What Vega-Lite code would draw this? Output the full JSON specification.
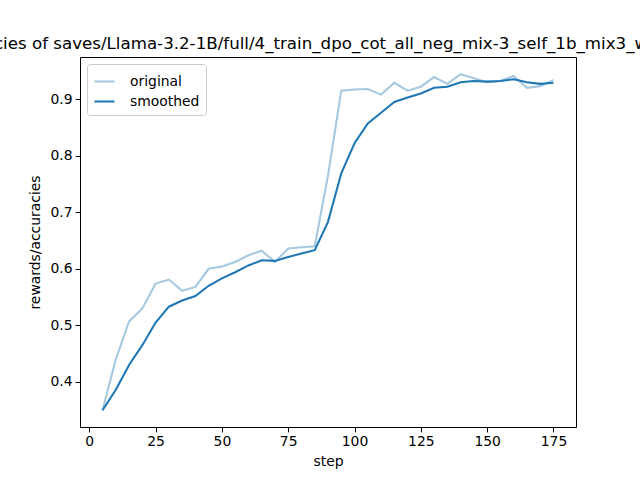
{
  "$schema": "https://vega.github.io/schema/vega-lite/v6.json",
  "width": 496,
  "height": 370,
  "autosize": {"type": "none"},
  "padding": {"left": 80, "top": 57, "right": 64, "bottom": 53},
  "background": "white",
  "title": {
    "text": "rewards/accuracies of saves/Llama-3.2-1B/full/4_train_dpo_cot_all_neg_mix-3_self_1b_mix3_wo_sft_beta_0.1lr5",
    "font": "DejaVu Sans",
    "fontSize": 16.67,
    "fontWeight": "normal",
    "color": "black",
    "anchor": "middle",
    "baseline": "alphabetic",
    "offset": -9
  },
  "data": {
    "values": [
      {"step": 5, "original": 0.350, "smoothed": 0.350},
      {"step": 10, "original": 0.440, "smoothed": 0.386},
      {"step": 15, "original": 0.507, "smoothed": 0.430},
      {"step": 20, "original": 0.530, "smoothed": 0.465},
      {"step": 25, "original": 0.574, "smoothed": 0.505},
      {"step": 30, "original": 0.581, "smoothed": 0.533},
      {"step": 35, "original": 0.561, "smoothed": 0.544},
      {"step": 40, "original": 0.568, "smoothed": 0.552},
      {"step": 45, "original": 0.600, "smoothed": 0.570},
      {"step": 50, "original": 0.604, "smoothed": 0.583},
      {"step": 55, "original": 0.612, "smoothed": 0.594},
      {"step": 60, "original": 0.624, "smoothed": 0.606},
      {"step": 65, "original": 0.632, "smoothed": 0.615},
      {"step": 70, "original": 0.612, "smoothed": 0.614},
      {"step": 75, "original": 0.636, "smoothed": 0.621},
      {"step": 80, "original": 0.638, "smoothed": 0.627},
      {"step": 85, "original": 0.640, "smoothed": 0.633},
      {"step": 90, "original": 0.765, "smoothed": 0.683},
      {"step": 95, "original": 0.915, "smoothed": 0.769},
      {"step": 100, "original": 0.917, "smoothed": 0.822},
      {"step": 105, "original": 0.918, "smoothed": 0.857},
      {"step": 110, "original": 0.908, "smoothed": 0.876},
      {"step": 115, "original": 0.929, "smoothed": 0.895},
      {"step": 120, "original": 0.915, "smoothed": 0.903},
      {"step": 125, "original": 0.922, "smoothed": 0.910},
      {"step": 130, "original": 0.939, "smoothed": 0.920},
      {"step": 135, "original": 0.927, "smoothed": 0.922},
      {"step": 140, "original": 0.944, "smoothed": 0.930},
      {"step": 145, "original": 0.937, "smoothed": 0.932},
      {"step": 150, "original": 0.930, "smoothed": 0.931},
      {"step": 155, "original": 0.932, "smoothed": 0.932},
      {"step": 160, "original": 0.941, "smoothed": 0.935},
      {"step": 165, "original": 0.920, "smoothed": 0.930},
      {"step": 170, "original": 0.923, "smoothed": 0.927},
      {"step": 175, "original": 0.934, "smoothed": 0.929}
    ]
  },
  "transform": [{"fold": ["original", "smoothed"], "as": ["series", "value"]}],
  "mark": {"type": "line", "strokeWidth": 2.08, "clip": true},
  "encoding": {
    "x": {
      "field": "step",
      "type": "quantitative",
      "title": "step",
      "scale": {"domain": [-3.5, 183.5], "nice": false, "zero": false},
      "axis": {"values": [0, 25, 50, 75, 100, 125, 150, 175], "format": "d"}
    },
    "y": {
      "field": "value",
      "type": "quantitative",
      "title": "rewards/accuracies",
      "scale": {"domain": [0.3203, 0.9745], "nice": false, "zero": false},
      "axis": {"values": [0.4, 0.5, 0.6, 0.7, 0.8, 0.9], "format": ".1f"}
    },
    "color": {
      "field": "series",
      "type": "nominal",
      "scale": {"domain": ["original", "smoothed"], "range": ["#a5c9e1", "#1f77b4"]},
      "legend": {
        "title": null,
        "orient": "top-left",
        "offset": 7,
        "symbolType": "stroke",
        "symbolSize": 400,
        "symbolStrokeWidth": 2.08,
        "labelFont": "DejaVu Sans",
        "labelFontSize": 13.9,
        "labelColor": "black",
        "labelOffset": 14,
        "rowPadding": 1,
        "padding": 6,
        "fillColor": "white",
        "strokeColor": "#cccccc",
        "cornerRadius": 3
      }
    },
    "order": {"field": "step", "type": "quantitative"}
  },
  "config": {
    "view": {"stroke": "black", "strokeWidth": 1},
    "axis": {
      "grid": false,
      "domain": false,
      "tickColor": "black",
      "tickSize": 4.9,
      "tickWidth": 1,
      "labelFont": "DejaVu Sans",
      "labelFontSize": 13.9,
      "labelColor": "black",
      "labelPadding": 3,
      "titleFont": "DejaVu Sans",
      "titleFontSize": 13.9,
      "titleFontWeight": "normal",
      "titleColor": "black"
    },
    "axisY": {"titlePadding": 8},
    "axisX": {"titlePadding": 6}
  }
}
